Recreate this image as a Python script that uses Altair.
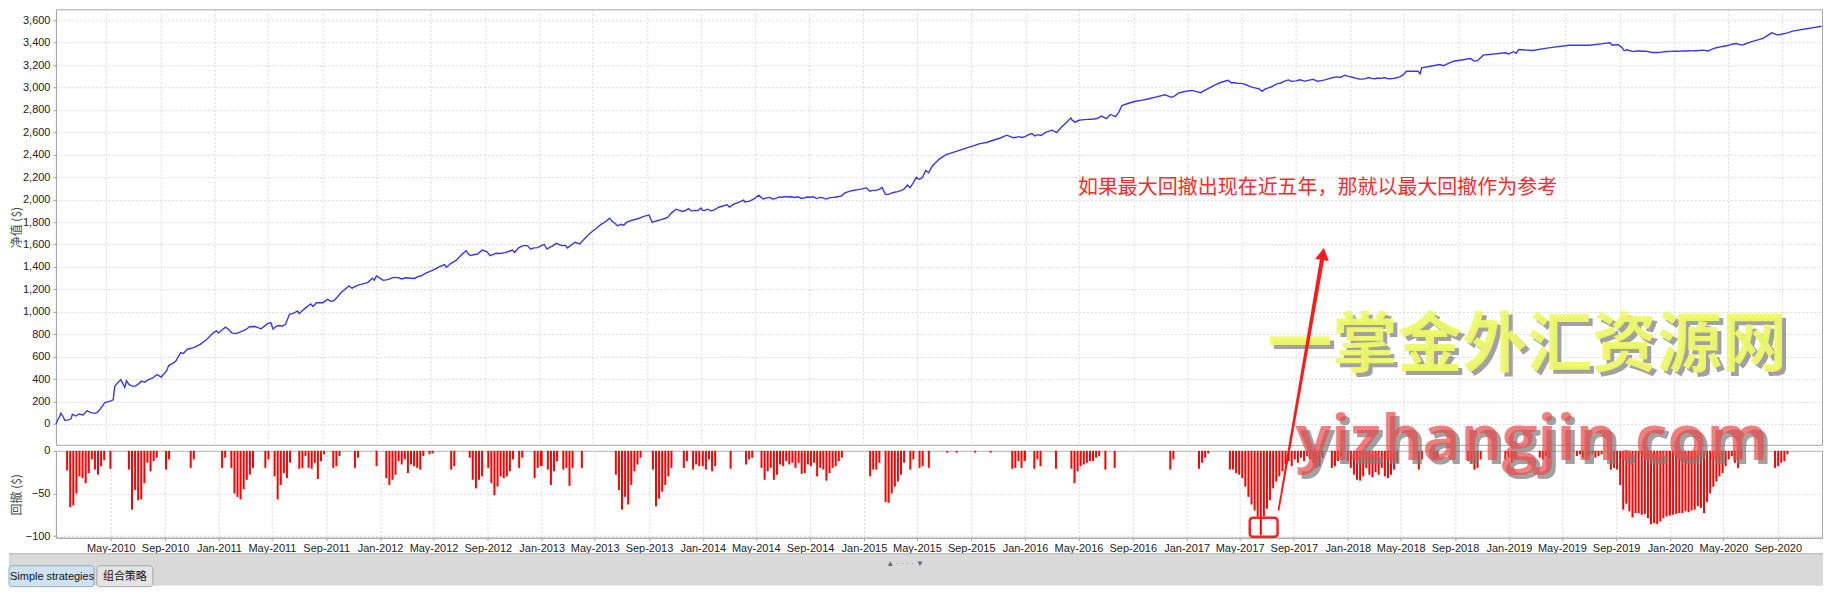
import datetime as dt
import pandas as pd
import altair as alt

# ---------------- equity curve (date "MM-DD", value $) ----------------
EQ_2010 = [("01-08",0),("01-12",35),("01-16",62),("01-19",95),("01-23",72),("01-28",32),("02-05",36),("02-11",45),("02-14",86),("02-22",70),("03-01",88),("03-10",80),("03-19",116),("03-28",100),("04-06",94),("04-12",105),("04-23",160),("04-28",190),("05-12",205),("05-17",215),("05-19",290),("05-21",339),("05-28",370),("06-03",395),("06-12",326),("06-16",383),("06-22",349),("06-29",337),("07-06",338),("07-13",357),("07-20",381),("07-27",371),("08-03",392),("08-12",405),("08-24",440),("09-02",418),("09-08",445),("09-14",470),("09-19",520),("09-28",540),("10-05",560),("10-16",636),("10-22",628),("10-31",666),("11-14",680),("11-29",710),("12-14",755),("12-29",814)]
EQ_2011 = [("01-05",830),("01-09",810),("01-16",835),("01-25",862),("02-01",842),("02-08",812),("02-17",805),("02-25",817),("03-05",830),("03-12",842),("03-20",866),("04-02",868),("04-15",848),("04-22",870),("04-30",895),("05-07",903),("05-12",846),("05-19",870),("05-26",877),("06-02",871),("06-09",889),("06-18",977),("06-29",990),("07-06",1007),("07-10",985),("07-20",1020),("07-25",1037),("08-05",1070),("08-10",1048),("08-18",1081),("09-01",1081),("09-12",1111),("09-20",1091),("09-27",1102),("10-12",1170),("10-30",1230),("11-06",1210),("11-18",1235),("11-26",1245),("12-11",1260),("12-22",1300),("12-26",1282),("12-31",1319)]
EQ_2012 = [("01-08",1300),("01-15",1280),("01-22",1285),("01-29",1291),("02-05",1305),("02-12",1307),("02-19",1303),("02-26",1293),("03-05",1303),("03-12",1301),("03-19",1299),("03-26",1297),("04-02",1313),("04-09",1319),("04-20",1345),("05-05",1370),("05-20",1400),("06-01",1420),("06-06",1398),("06-15",1430),("06-28",1460),("07-10",1510),("07-20",1545),("07-26",1511),("07-31",1501),("08-08",1511),("08-15",1515),("08-25",1550),("09-05",1535),("09-12",1500),("09-18",1510),("09-25",1522),("10-05",1520),("10-15",1528),("10-25",1540),("11-01",1550),("11-06",1530),("11-15",1570),("11-25",1590),("12-05",1590),("12-12",1558),("12-20",1570),("12-28",1572)]
EQ_2013 = [("01-05",1590),("01-12",1600),("01-18",1560),("01-25",1576),("02-01",1590),("02-08",1610),("02-20",1590),("03-01",1592),("03-05",1569),("03-12",1590),("03-22",1620),("04-02",1605),("04-12",1650),("04-25",1700),("05-08",1740),("05-20",1780),("06-01",1810),("06-08",1835),("06-14",1808),("06-20",1789),("06-26",1766),("07-03",1781),("07-10",1772),("07-16",1797),("07-24",1810),("07-31",1819),("08-10",1830),("08-20",1845),("08-28",1855),("09-05",1862),("09-12",1797),("09-18",1806),("09-25",1814),("10-02",1822),("10-10",1832),("10-17",1842),("10-25",1880),("11-05",1915),("11-19",1895),("11-26",1903),("12-03",1920),("12-10",1898),("12-17",1904),("12-24",1902),("12-31",1925)]
EQ_2014 = [("01-03",1907),("01-08",1903),("01-15",1915),("01-22",1901),("01-29",1907),("02-10",1935),("02-28",1955),("03-05",1934),("03-15",1960),("03-28",1980),("04-06",1995),("04-09",1979),("04-20",1987),("04-30",2010),("05-10",2040),("05-20",2006),("05-28",2016),("06-04",2020),("06-10",2006),("06-18",2012),("06-25",2024),("07-02",2022),("07-09",2028),("07-16",2024),("07-23",2026),("07-30",2020),("08-06",2026),("08-13",2013),("08-20",2014),("08-27",2024),("09-03",2022),("09-10",2026),("09-17",2010),("09-24",2020),("10-01",2018),("10-08",2005),("10-15",2014),("10-22",2020),("10-29",2022),("11-05",2028),("11-12",2032),("11-20",2060),("12-05",2080),("12-20",2090),("12-31",2098)]
EQ_2015 = [("01-08",2105),("01-15",2075),("01-22",2083),("01-29",2083),("02-05",2091),("02-12",2108),("02-19",2048),("02-26",2047),("03-05",2058),("03-12",2066),("03-19",2072),("03-26",2080),("04-02",2094),("04-10",2130),("04-16",2108),("04-23",2150),("04-30",2200),("05-07",2180),("05-14",2200),("05-21",2260),("05-28",2240),("06-05",2300),("06-20",2360),("07-05",2400),("07-20",2420),("08-05",2440),("08-20",2460),("09-05",2480),("09-20",2500),("10-05",2510),("10-20",2530),("11-05",2550),("11-20",2575),("12-03",2554),("12-10",2555),("12-17",2562),("12-24",2555),("12-31",2563)]
EQ_2016 = [("01-08",2580),("01-15",2590),("01-22",2569),("01-29",2580),("02-05",2572),("02-15",2600),("03-01",2620),("03-11",2599),("03-20",2640),("04-05",2700),("04-12",2730),("04-15",2709),("04-22",2692),("04-29",2706),("05-06",2712),("05-13",2714),("05-20",2716),("05-27",2718),("06-03",2720),("06-10",2724),("06-20",2745),("07-01",2723),("07-10",2760),("07-22",2740),("07-29",2780),("08-05",2840),("08-20",2860),("09-05",2878),("09-20",2888),("10-05",2900),("10-20",2915),("11-10",2935),("11-25",2913),("12-02",2925),("12-10",2950),("12-25",2965)]
EQ_2017 = [("01-10",2975),("01-29",2954),("02-15",2990),("03-01",3020),("03-15",3045),("04-01",3065),("04-08",3043),("04-15",3043),("04-22",3039),("04-29",3037),("05-06",3033),("05-13",3023),("05-20",3011),("05-27",3002),("06-03",2995),("06-10",2988),("06-17",2966),("06-24",2988),("07-01",2997),("07-08",3007),("07-15",3021),("07-22",3035),("07-29",3041),("08-05",3055),("08-15",3068),("08-22",3056),("09-01",3060),("09-10",3070),("09-20",3058),("10-01",3066),("10-10",3074),("10-20",3056),("10-28",3062),("11-05",3068),("11-15",3080),("11-22",3088),("12-01",3095),("12-10",3090),("12-20",3110),("12-28",3100)]
EQ_2018 = [("01-01",3098),("01-08",3090),("01-15",3082),("01-22",3076),("01-29",3075),("02-05",3080),("02-12",3090),("02-19",3082),("02-26",3079),("03-05",3085),("03-12",3082),("03-19",3090),("03-26",3080),("04-02",3078),("04-09",3082),("04-16",3088),("04-23",3096),("05-01",3115),("05-08",3146),("06-03",3146),("06-08",3124),("06-11",3176),("07-01",3190),("07-22",3205),("07-30",3195),("08-22",3235),("09-29",3259),("10-08",3237),("10-15",3240),("10-28",3289),("12-17",3310),("12-24",3300)]
EQ_2019 = [("01-04",3320),("01-10",3306),("01-16",3340),("02-16",3331),("03-24",3354),("05-09",3378),("06-24",3378),("07-20",3390),("08-09",3399),("08-15",3377),("08-27",3384),("09-05",3359),("09-10",3330),("09-17",3337),("09-24",3328),("10-01",3321),("10-08",3326),("10-15",3326),("10-22",3324),("10-29",3325),("11-05",3320),("11-12",3313),("11-19",3314),("11-26",3313),("12-03",3316),("12-10",3320),("12-17",3322),("12-24",3323),("12-31",3324)]
EQ_2020 = [("01-07",3324),("01-14",3325),("01-21",3326),("01-28",3326),("02-04",3328),("02-11",3327),("02-18",3329),("02-25",3330),("03-03",3334),("03-10",3332),("03-17",3326),("03-24",3339),("03-31",3349),("04-07",3357),("04-14",3363),("04-21",3369),("04-28",3373),("05-05",3381),("05-12",3389),("05-20",3393),("05-27",3385),("06-03",3379),("06-10",3391),("06-20",3405),("07-19",3438),("08-08",3488),("08-20",3470),("08-27",3473),("09-10",3485),("09-24",3503),("10-10",3515),("10-25",3525),("11-10",3535),("11-28",3547)]

# ---------------- weekly drawdown ($), week k = Jan 1 + 7k ----------------
DD_2010 = [0,0,0,-23,-66,-64,-50,-30,-32,-38,-26,-10,-22,-28,-18,-11,0,-21,0,0,0,0,0,-22,-69,-46,-58,-57,-38,-14,-24,-12,-8,0,0,-22,-10,0,0,0,0,0,0,-20,-10,0,0,0,0,0,0,0,0]
DD_2011 = [0,-20,-8,0,-20,-50,-54,-57,-45,-34,-28,-20,0,0,0,-20,-10,0,-30,-57,-40,-26,-32,-14,0,0,-21,-20,-6,-20,-21,-14,-33,-12,-4,0,0,-20,-18,-6,0,0,0,0,-20,-8,0,0,0,0,0,-18,0]
DD_2012 = [0,0,-32,-40,-34,-28,-12,-16,-10,-26,-16,-18,-20,-22,-6,0,-4,-3,0,0,0,0,0,-22,-18,0,0,0,0,-8,-34,-44,-34,-30,0,-20,-38,-52,-42,-30,-32,-30,-24,-10,0,-20,-8,0,0,0,-32,-20,-18]
DD_2013 = [-18,0,-22,-40,-24,-12,0,-22,-20,-41,-20,0,0,-20,0,0,0,0,0,0,0,0,0,0,-28,-46,-69,-54,-63,-40,-24,-16,-8,0,0,0,-22,-65,-56,-48,-40,-30,-20,0,0,0,-20,-12,0,-22,-16,-18,0]
DD_2014 = [-18,-22,-10,-24,-18,0,0,0,0,-21,0,0,0,0,-16,-10,-8,0,0,-20,-34,-24,-20,-34,-28,-16,-18,-12,-16,-14,-20,-14,-27,-26,-16,-18,-14,-30,-20,-22,-35,-26,-20,-18,-12,-8,0,0,0,0,0,0,0]
DD_2015 = [0,0,-30,-22,-22,-14,0,-60,-61,-50,-42,-36,-28,-14,0,-22,-10,0,-20,-18,0,-20,0,0,0,0,0,-2,0,0,-2,0,0,0,0,0,-2,0,0,0,0,-2,0,0,0,0,0,0,-21,-20,-12,-20,-12]
DD_2016 = [-10,0,0,-21,-10,-18,0,0,0,0,-21,0,0,0,0,-21,-38,-24,-18,-16,-14,-12,-12,-8,-6,0,-22,0,0,-20,0,0,0,0,0,0,0,0,0,0,0,0,0,0,0,0,0,-22,-10,0,0,0,0]
DD_2017 = [0,0,0,0,-21,-14,-8,-3,0,0,0,0,0,0,-22,-22,-26,-28,-32,-42,-54,-63,-70,-77,-99,-77,-68,-58,-44,-36,-30,-24,-16,-12,-18,-10,-14,-8,-12,-6,-10,-14,-20,-18,-8,0,0,-20,-18,-12,-6,0,0]
DD_2018 = [-12,-20,-28,-34,-35,-30,-20,-28,-31,-25,-28,-20,-30,-32,-28,-22,-14,0,0,0,0,0,0,-22,-10,0,0,0,-10,-8,0,0,0,0,0,0,0,0,0,-12,-15,-22,-20,-10,0,0,0,0,0,0,0,-10,-8]
DD_2019 = [0,-14,-10,0,0,0,0,0,0,0,-8,-10,-6,-8,0,0,0,0,0,0,0,0,-6,-4,-8,-5,-6,-4,-8,-6,-4,0,0,-22,-20,-22,-40,-69,-62,-71,-78,-73,-73,-75,-74,-79,-86,-85,-86,-83,-79,-77,-76]
DD_2020 = [-75,-75,-74,-73,-73,-71,-72,-70,-69,-65,-67,-73,-60,-50,-42,-36,-30,-26,-18,-10,-6,-14,-20,-8,0,0,0,0,0,0,0,0,0,0,-20,-18,-14,-12,-4,0,0,0,0,0,0,0,0,0]

# ---------------- axis labels / texts ----------------
TICK_MONTHS = [(2010,5),(2010,9),(2011,1),(2011,5),(2011,9),(2012,1),(2012,5),(2012,9),(2013,1),(2013,5),(2013,9),(2014,1),(2014,5),(2014,9),(2015,1),(2015,5),(2015,9),(2016,1),(2016,5),(2016,9),(2017,1),(2017,5),(2017,9),(2018,1),(2018,5),(2018,9),(2019,1),(2019,5),(2019,9),(2020,1),(2020,5),(2020,9)]
EQ_TICKS = [0,200,400,600,800,1000,1200,1400,1600,1800,2000,2200,2400,2600,2800,3000,3200,3400,3600]
DD_TICKS = [0,-50,-100]
NOTE_TEXT = "如果最大回撤出现在近五年，那就以最大回撤作为参考"
WM_CN = "一掌金外汇资源网"
WM_EN = "yizhangjin.com"
TAB1 = "Simple strategies"
TAB2 = "组合策略"

CJK = "Noto Sans CJK SC"
LAT = "Liberation Sans"

eq_rows = []
for year, pts in [(2010,EQ_2010),(2011,EQ_2011),(2012,EQ_2012),(2013,EQ_2013),(2014,EQ_2014),(2015,EQ_2015),(2016,EQ_2016),(2017,EQ_2017),(2018,EQ_2018),(2019,EQ_2019),(2020,EQ_2020)]:
    for md, v in pts:
        eq_rows.append({"date": f"{year}-{md}", "equity": v})
eq_df = pd.DataFrame(eq_rows)

dd_rows = []
for year, vals in [(2010,DD_2010),(2011,DD_2011),(2012,DD_2012),(2013,DD_2013),(2014,DD_2014),(2015,DD_2015),(2016,DD_2016),(2017,DD_2017),(2018,DD_2018),(2019,DD_2019),(2020,DD_2020)]:
    for k, v in enumerate(vals):
        if v < 0:
            d = dt.date(year, 1, 1) + dt.timedelta(days=7 * k)
            dd_rows.append({"date": d.isoformat(), "dd": v})
dd_df = pd.DataFrame(dd_rows)

W = 1768
H_UP = 436
H_DN = 87

xdomain = [alt.DateTime(year=2010, month=1, date=8, utc=True), alt.DateTime(year=2020, month=11, date=29, utc=True)]
xticks = [alt.DateTime(year=y, month=m, date=1, utc=True) for y, m in TICK_MONTHS]
xscale = alt.Scale(type="utc", domain=xdomain)

x_up = alt.X("date:T", scale=xscale,
             axis=alt.Axis(values=xticks, labels=False, ticks=False, domain=False, title=None, grid=True))
y_up = alt.Y("equity:Q", scale=alt.Scale(domain=[-187, 3698], nice=False, zero=False),
             axis=alt.Axis(values=EQ_TICKS, format=",d", title="净值 ($)", titleX=-35, titleY=H_UP / 2,
                           titleAngle=270, titleBaseline="alphabetic", titleAlign="center",
                           titleFont=CJK, titleFontSize=12, titleFontWeight="normal", titleColor="#4a4a4a",
                           tickSize=3, labelPadding=3))

line = alt.Chart(eq_df).mark_line(color="#3636ff", strokeWidth=1.4).encode(x=x_up, y=y_up)

note_df = pd.DataFrame({"date": ["2016-04-28"], "equity": [2103], "text": [NOTE_TEXT]})
note = alt.Chart(note_df).mark_text(align="left", baseline="middle", font=CJK, fontSize=20,
                                    color="#ff2a2a").encode(x=x_up, y=y_up, text="text:N")

wmcn_df = pd.DataFrame({"date": ["2019-02-04"], "equity": [695], "text": [WM_CN]})
wmcn_sh = alt.Chart(wmcn_df).mark_text(align="center", baseline="middle", font=CJK, fontSize=65,
                                       fontWeight="bold", color="#8a8a8a", dx=4, dy=4,
                                       opacity=0.8).encode(x=x_up, y=y_up, text="text:N")
wmcn = alt.Chart(wmcn_df).mark_text(align="center", baseline="middle", font=CJK, fontSize=65,
                                    fontWeight="bold", color="#eef86a",
                                    opacity=0.95).encode(x=x_up, y=y_up, text="text:N")

arrow_df = pd.DataFrame({"date": ["2017-07-24", "2017-11-01"], "equity": [-766, 1516], "w": [1.8, 4.2]})
arrow = alt.Chart(arrow_df).mark_trail(color="#ff1a1a").encode(
    x=x_up, y=y_up, size=alt.Size("w:Q", scale=None, legend=None))
head_df = pd.DataFrame({"date": ["2017-11-01"], "equity": [1516]})
head = alt.Chart(head_df).mark_point(shape="triangle-up", filled=True, size=190, angle=9.5,
                                     color="#ff1a1a", opacity=1).encode(x=x_up, y=y_up)

upper = alt.layer(line, note, wmcn_sh, wmcn, arrow, head).properties(width=W, height=H_UP)

x_dn = alt.X("date:T", scale=xscale,
             axis=alt.Axis(values=xticks, format="%b-%Y", title=None, grid=True, labelFlush=False,
                           labelOverlap=False, tickSize=3, labelPadding=2))
y_dn = alt.Y("dd:Q", scale=alt.Scale(domain=[-102, 0], nice=False, zero=False),
             axis=alt.Axis(values=DD_TICKS, title="回撤 ($)", titleX=-35, titleY=H_DN / 2,
                           titleAngle=270, titleBaseline="alphabetic", titleAlign="center",
                           titleFont=CJK, titleFontSize=12, titleFontWeight="normal", titleColor="#4a4a4a",
                           tickSize=3, labelPadding=3))

bars = alt.Chart(dd_df).mark_bar(width=2.0, color="#ff0000").encode(x=x_dn, y=y_dn, y2=alt.datum(0))

box_df = pd.DataFrame({"date": ["2017-05-24"], "date2": ["2017-07-26"], "dd": [-78.6], "dd2": [-100.8]})
box = alt.Chart(box_df).mark_rect(stroke="#ff2020", strokeWidth=2.5, fillOpacity=0, cornerRadius=3).encode(
    x=x_dn, x2="date2:T", y=y_dn, y2="dd2:Q")

wmen_df = pd.DataFrame({"date": ["2019-02-22"], "dd": [-10.6], "text": [WM_EN]})
wmen_sh = alt.Chart(wmen_df).mark_text(align="center", baseline="alphabetic", font="Open Sans", fontSize=63,
                                       fontWeight="bold", color="#7a7a7a", dx=4, dy=4,
                                       opacity=0.7).encode(x=x_dn, y=y_dn, text="text:N")
wmen = alt.Chart(wmen_df).mark_text(align="center", baseline="alphabetic", font="Open Sans", fontSize=63,
                                    fontWeight="bold", color="#ec4a4a",
                                    opacity=0.7).encode(x=x_dn, y=y_dn, text="text:N")

one = pd.DataFrame({"k": [0]})
band = alt.Chart(one).mark_rect(color="#d9d9d9").encode(
    x=alt.value(-47), x2=alt.value(1769), y=alt.value(103), y2=alt.value(135))
band_line = alt.Chart(one).mark_rule(color="#b4b4b4").encode(
    x=alt.value(-47), x2=alt.value(1769), y=alt.value(103))
tab1 = alt.Chart(one).mark_rect(fill="#cfe2f0", stroke="#8ea9c0", cornerRadius=3).encode(
    x=alt.value(-47), x2=alt.value(38), y=alt.value(115), y2=alt.value(136))
tab2 = alt.Chart(one).mark_rect(fill="#e4e4e4", stroke="#a8a8a8", cornerRadius=3).encode(
    x=alt.value(41), x2=alt.value(97), y=alt.value(115), y2=alt.value(136))
tab1_t = alt.Chart(one).mark_text(text=TAB1, align="left", baseline="middle", font=LAT, fontSize=11,
                                  color="#111111").encode(x=alt.value(-46), y=alt.value(126))
tab2_t = alt.Chart(one).mark_text(text=TAB2, align="center", baseline="middle", font=CJK, fontSize=11,
                                  color="#111111").encode(x=alt.value(69), y=alt.value(126))
grip = alt.Chart(one).mark_text(text="▲ · · · · ▼", align="center", baseline="middle", font=LAT, fontSize=8,
                                color="#666666").encode(x=alt.value(850), y=alt.value(113))

lower = alt.layer(bars, box, wmen_sh, wmen, band, band_line, tab1, tab2, tab1_t, tab2_t, grip).properties(
    width=W, height=H_DN)

chart = alt.vconcat(upper, lower, spacing=6, bounds="flush").properties(
    padding={"left": 0, "top": 0, "right": 0, "bottom": 0}, background="white"
).configure_view(stroke="#a6a6a6", strokeWidth=1).configure_axis(
    labelFont=LAT, labelFontSize=11, labelColor="#222222",
    gridColor="#d9d9d9", gridDash=[2, 2], gridWidth=1,
    domainColor="#a6a6a6", tickColor="#a6a6a6")

chart.save("out.html", embed_options={"renderer": "svg", "actions": False})
